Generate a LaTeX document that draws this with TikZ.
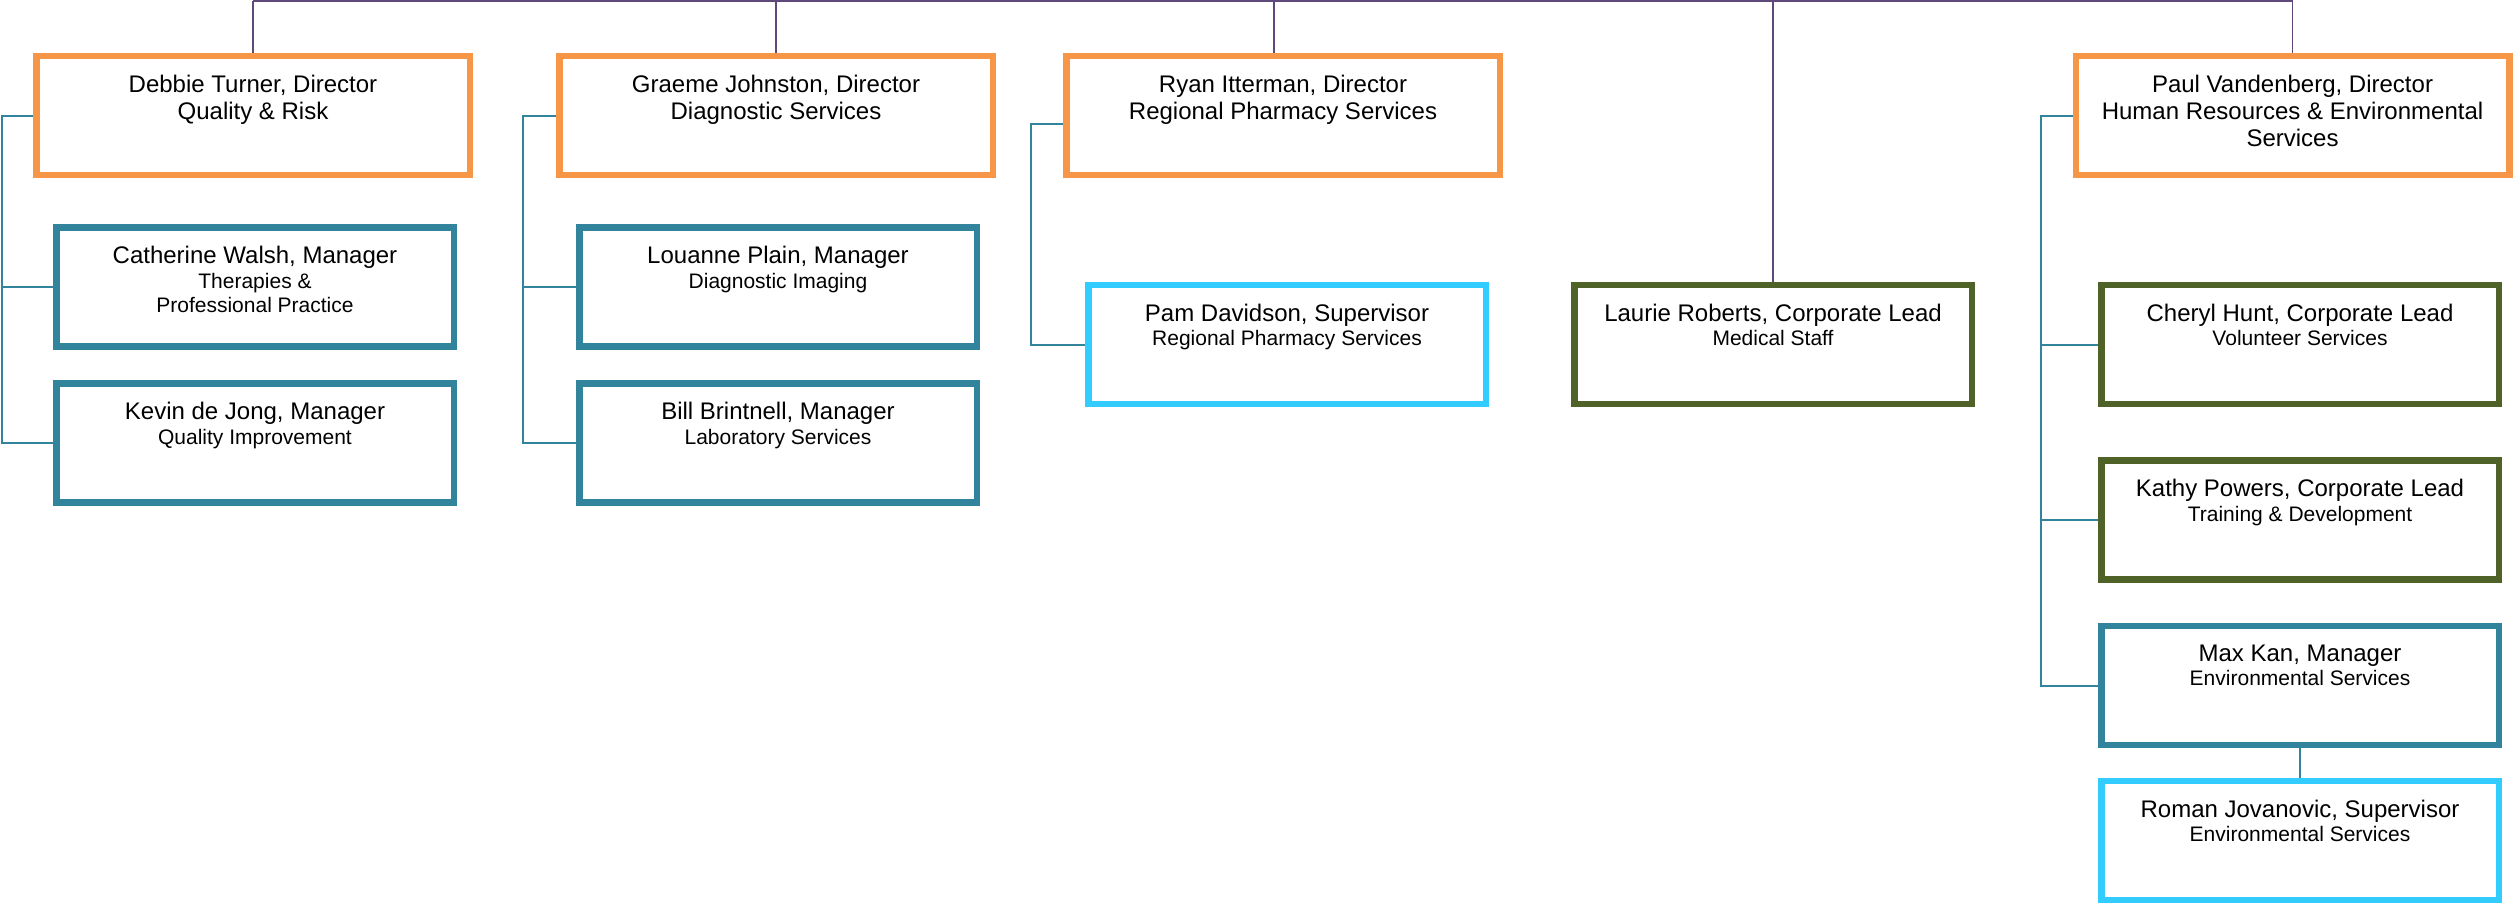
\documentclass[tikz,border=0pt]{standalone}
\usepackage{fontspec}
\setmainfont{Liberation Sans}
\usepackage{tikz}
\usetikzlibrary{calc}

\definecolor{dirorange}{HTML}{F79646}
\definecolor{mgrteal}{HTML}{31849B}
\definecolor{supblue}{HTML}{33CCFF}
\definecolor{leadolive}{HTML}{4F6228}
\definecolor{barpurple}{HTML}{5F497A}

\begin{document}
\begin{tikzpicture}[x=0.5pt, y=-0.5pt,
                    every box/.style = {rectangle, fill=white, line width=3.25pt, minimum height=59.5pt},
                    director/.style = {draw=dirorange, minimum width=216.75pt, every box},
                    manager/.style = {draw=mgrteal, minimum width=198.75pt, every box},
                    supervisor/.style = {draw=supblue, minimum width=198.75pt, every box},
                    lead/.style = {draw=leadolive, minimum width=198.75pt, every box},
                    dirtext/.style = {anchor=north, align=center, inner sep=0pt, font=\fontsize{12}{13.5}\selectfont},
                    stafftext/.style = {anchor=north, align=center, inner sep=0pt, font=\fontsize{10.5}{12.25}\selectfont},
                    topline/.style = {draw=barpurple, line width=1.2pt},
                    drop/.style = {draw=barpurple, line width=0.8pt},
                    branch/.style = {draw=mgrteal, line width=1pt} ]

                \useasboundingbox (0,0) rectangle (2515,907);
                \coordinate (bar) at (0,1);

                % directors
                \node [director] (debbie) at (253,115.5) {};
                \node [director] (graeme) at (776,115.5) {};
                \node [director] (ryan) at (1283,115.5) {};
                \node [director] (paul) at (2292.5,115.5) {};
                \node [dirtext] (debbie-txt) at ($(debbie.north)+(0,21.5)$) {Debbie Turner, Director\\Quality \& Risk};
                \node [dirtext] (graeme-txt) at ($(graeme.north)+(0,21.5)$) {Graeme Johnston, Director\\Diagnostic Services};
                \node [dirtext] (ryan-txt) at ($(ryan.north)+(0,21.5)$) {Ryan Itterman, Director\\Regional Pharmacy Services};
                \node [dirtext] (paul-txt) at ($(paul.north)+(0,21.5)$) {Paul Vandenberg, Director\\Human Resources \& Environmental\\Services};

                % staff
                \node [manager] (catherine) at (255,287) {};
                \node [manager] (kevin) at (255,443) {};
                \node [manager] (louanne) at (778,287) {};
                \node [manager] (bill) at (778,443) {};
                \node [supervisor] (pam) at (1287,344.5) {};
                \node [lead] (laurie) at (1773,344.5) {};
                \node [lead] (cheryl) at (2300,344.5) {};
                \node [lead] (kathy) at (2300,520) {};
                \node [manager] (max) at (2300,685.5) {};
                \node [supervisor] (roman) at (2300,840.5) {};

                \node [stafftext] (catherine-txt) at ($(catherine.north)+(0,21.5)$) {{\fontsize{12}{12.25}\selectfont Catherine Walsh, Manager}\\Therapies \&\\Professional Practice};
                \node [stafftext] (kevin-txt) at ($(kevin.north)+(0,21.5)$) {{\fontsize{12}{12.25}\selectfont Kevin de Jong, Manager}\\Quality Improvement};
                \node [stafftext] (louanne-txt) at ($(louanne.north)+(0,21.5)$) {{\fontsize{12}{12.25}\selectfont Louanne Plain, Manager}\\Diagnostic Imaging};
                \node [stafftext] (bill-txt) at ($(bill.north)+(0,21.5)$) {{\fontsize{12}{12.25}\selectfont Bill Brintnell, Manager}\\Laboratory Services};
                \node [stafftext] (pam-txt) at ($(pam.north)+(0,21.5)$) {{\fontsize{12}{12.25}\selectfont Pam Davidson, Supervisor}\\Regional Pharmacy Services};
                \node [stafftext] (laurie-txt) at ($(laurie.north)+(0,21.5)$) {{\fontsize{12}{12.25}\selectfont Laurie Roberts, Corporate Lead}\\Medical Staff};
                \node [stafftext] (cheryl-txt) at ($(cheryl.north)+(0,21.5)$) {{\fontsize{12}{12.25}\selectfont Cheryl Hunt, Corporate Lead}\\Volunteer Services};
                \node [stafftext] (kathy-txt) at ($(kathy.north)+(0,21.5)$) {{\fontsize{12}{12.25}\selectfont Kathy Powers, Corporate Lead}\\Training \& Development};
                \node [stafftext] (max-txt) at ($(max.north)+(0,21.5)$) {{\fontsize{12}{12.25}\selectfont Max Kan, Manager}\\Environmental Services};
                \node [stafftext] (roman-txt) at ($(roman.north)+(0,21.5)$) {{\fontsize{12}{12.25}\selectfont Roman Jovanovic, Supervisor}\\Environmental Services};

                % top bar
                \draw[topline] (debbie.north |- bar) -- (paul.north |- bar);
                \draw[drop] (debbie.north |- bar) -- (debbie.north);
                \draw[drop] (graeme.north |- bar) -- (graeme.north);
                \draw[drop] ($(ryan.north |- bar)+(-9,0)$) -- ($(ryan.north)+(-9,0)$);
                \draw[drop] (laurie.north |- bar) -- (laurie.north);
                \draw[drop] (paul.north |- bar) -- (paul.north);

                % branches
                \draw[branch] (debbie.west) -- ++(-31,0) |- (kevin.west);
                \draw[branch] ($(debbie.west)+(-31,0)$) |- (catherine.west);
                \draw[branch] (graeme.west) -- ++(-33,0) |- (bill.west);
                \draw[branch] ($(graeme.west)+(-33,0)$) |- (louanne.west);
                \draw[branch] ($(ryan.west)+(0,8.5)$) -- ++(-32,0) |- (pam.west);
                \draw[branch] (paul.west) -- ++(-32,0) |- (max.west);
                \draw[branch] ($(paul.west)+(-32,0)$) |- (cheryl.west);
                \draw[branch] ($(paul.west)+(-32,0)$) |- (kathy.west);
                \draw[branch] (max.south) -- (roman.north);
            \end{tikzpicture}
\end{document}
